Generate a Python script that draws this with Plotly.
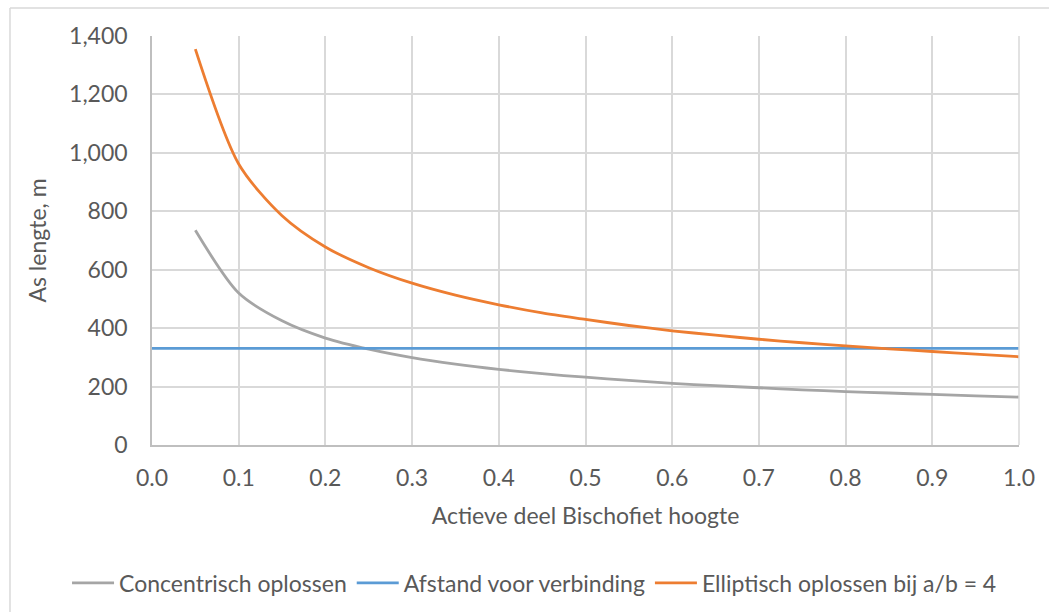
import plotly.graph_objects as go

# Fraction of the Bischofiet layer height that is active
hoogte = [0.05, 0.10, 0.15, 0.20, 0.25, 0.30, 0.35, 0.40, 0.45, 0.50,
          0.55, 0.60, 0.65, 0.70, 0.75, 0.80, 0.85, 0.90, 0.95, 1.00]

# Required well (as) length in metres
concentrisch = [735, 520, 425, 366, 328, 299, 277, 259, 244, 232,
                221, 211, 203, 196, 189, 183, 178, 173, 168, 164]
elliptisch = [1355, 962, 785, 678, 607, 554, 513, 480, 452, 430,
              409, 391, 376, 362, 350, 339, 329, 320, 311, 302]
afstand_hoogte = [0.0, 1.0]
afstand = [331, 331]

x_ticks = [0.0, 0.1, 0.2, 0.3, 0.4, 0.5, 0.6, 0.7, 0.8, 0.9, 1.0]
y_ticks = [0, 200, 400, 600, 800, 1000, 1200, 1400]

FONT = "Lato, sans-serif"
TEXT = "#595959"
GRID = "#d9d9d9"
FS = 23

fig = go.Figure()
fig.add_trace(go.Scatter(
    x=hoogte, y=concentrisch, mode="lines", name="Concentrisch oplossen",
    line=dict(color="#A5A5A5", width=2.8, shape="spline", smoothing=0.8)))
fig.add_trace(go.Scatter(
    x=afstand_hoogte, y=afstand, mode="lines", name="Afstand voor verbinding",
    line=dict(color="#5B9BD5", width=2.8)))
fig.add_trace(go.Scatter(
    x=hoogte, y=elliptisch, mode="lines", name="Elliptisch oplossen bij a/b = 4",
    line=dict(color="#ED7D31", width=2.8, shape="spline", smoothing=0.8)))

fig.update_layout(
    width=1049, height=612,
    margin=dict(l=152, r=30, t=36, b=167, autoexpand=False),
    paper_bgcolor="white", plot_bgcolor="white",
    font=dict(family=FONT, size=FS, color=TEXT),
    showlegend=True,
    legend=dict(orientation="h", x=-0.098, xanchor="left", y=-0.337, yanchor="middle",
                font=dict(size=FS, color=TEXT), itemwidth=42,
                tracegroupgap=0, bgcolor="rgba(0,0,0,0)"),
    xaxis=dict(
        range=[0, 1], tickvals=x_ticks, ticktext=[f"{v:.1f}" for v in x_ticks],
        showgrid=True, gridcolor=GRID, gridwidth=1.5,
        showline=True, linecolor="#bfbfbf", linewidth=1.5, zeroline=False,
        ticks="outside", ticklen=12, tickcolor="rgba(0,0,0,0)",
        automargin=False,
        title=dict(text="Actieve deel Bischofiet hoogte", standoff=18,
                   font=dict(size=FS, color=TEXT))),
    yaxis=dict(
        range=[0, 1400], tickvals=y_ticks, tickformat=",d",
        showgrid=True, gridcolor=GRID, gridwidth=1.5,
        showline=True, linecolor="#bfbfbf", linewidth=1.5, zeroline=False,
        ticks="outside", ticklen=18, tickcolor="rgba(0,0,0,0)",
        automargin=False,
        title=dict(text="As lengte, m", standoff=16,
                   font=dict(size=FS, color=TEXT))),
    shapes=[
        # right edge of plot area
        dict(type="line", xref="paper", yref="paper", x0=1, x1=1, y0=0, y1=1,
             line=dict(color=GRID, width=1.5)),
        # chart-area border (top and left)
        dict(type="line", xref="paper", yref="paper", x0=-0.1638, x1=1.05,
             y0=1.0685, y1=1.0685, line=dict(color=GRID, width=1.5)),
        dict(type="line", xref="paper", yref="paper", x0=-0.1638, x1=-0.1638,
             y0=1.0685, y1=-0.45, line=dict(color=GRID, width=1.5)),
    ],
)

fig.write_html("out.html")
